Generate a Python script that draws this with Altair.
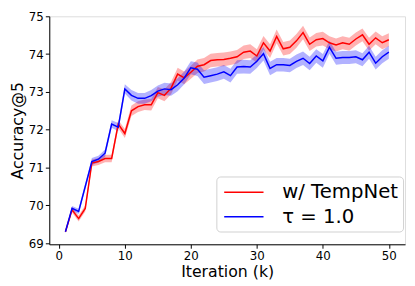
import altair as alt
import pandas as pd

iterations = list(range(1, 51))

tempnet_mean = [69.30, 69.88, 69.65, 69.92, 71.12, 71.16, 71.24, 71.24, 72.15, 71.90,
                72.50, 72.61, 72.66, 72.66, 72.98, 72.91, 73.10, 73.47, 73.37, 73.52,
                73.68, 73.72, 73.83, 73.85, 73.86, 73.89, 73.93, 74.05, 74.08, 73.95,
                74.30, 74.08, 74.47, 74.14, 74.18, 74.35, 74.57, 74.26, 74.38, 74.41,
                74.30, 74.24, 74.30, 74.26, 74.40, 74.51, 74.26, 74.43, 74.30, 74.38]
tempnet_sd = [0.03, 0.07, 0.08, 0.08, 0.09, 0.09, 0.10, 0.10, 0.11, 0.12,
              0.14, 0.14, 0.14, 0.15, 0.15, 0.16, 0.16, 0.17, 0.17, 0.17,
              0.18, 0.18, 0.18, 0.18, 0.18, 0.18, 0.18, 0.18, 0.18, 0.18,
              0.18, 0.18, 0.18, 0.18, 0.18, 0.18, 0.18, 0.18, 0.18, 0.18,
              0.17, 0.17, 0.17, 0.17, 0.17, 0.17, 0.17, 0.17, 0.17, 0.17]

tau_mean = [69.30, 69.92, 69.84, 70.50, 71.16, 71.22, 71.38, 72.15, 72.07, 73.08,
            72.91, 72.83, 72.83, 72.90, 73.02, 73.08, 73.06, 73.19, 73.37, 73.64,
            73.60, 73.39, 73.43, 73.47, 73.53, 73.43, 73.66, 73.67, 73.66, 73.81,
            74.01, 73.62, 73.72, 73.72, 73.70, 73.81, 73.89, 73.75, 73.95, 73.82,
            74.18, 73.89, 73.91, 73.91, 73.93, 73.85, 74.05, 73.76, 73.93, 74.05]
tau_sd = [0.03, 0.06, 0.07, 0.08, 0.09, 0.09, 0.10, 0.10, 0.11, 0.12,
          0.14, 0.14, 0.14, 0.15, 0.15, 0.16, 0.16, 0.17, 0.17, 0.17,
          0.18, 0.18, 0.18, 0.18, 0.18, 0.18, 0.18, 0.18, 0.18, 0.18,
          0.18, 0.18, 0.18, 0.18, 0.18, 0.18, 0.18, 0.18, 0.18, 0.18,
          0.17, 0.17, 0.17, 0.17, 0.17, 0.17, 0.17, 0.17, 0.17, 0.17]

series_names = ["w/ TempNet", "τ = 1.0"]
series_colors = ["#ff0000", "#0000ff"]
x_ticks = [0, 10, 20, 30, 40, 50]
y_ticks = [69, 70, 71, 72, 73, 74, 75]

rows = []
for name, means, sds in [(series_names[0], tempnet_mean, tempnet_sd),
                         (series_names[1], tau_mean, tau_sd)]:
    for k, m, s in zip(iterations, means, sds):
        rows.append({"k": k, "mean": m, "lo": m - s, "hi": m + s, "series": name})
df = pd.DataFrame(rows)

font = "DejaVu Sans"

xs = alt.Scale(domain=[-1.45, 52.45], nice=False, zero=False)
ys = alt.Scale(domain=[68.97, 75.0], nice=False, zero=False)
cs = alt.Scale(domain=series_names, range=series_colors)

x_axis = alt.Axis(values=x_ticks, title="Iteration (k)", grid=False, labelFontSize=12,
                  titleFontSize=16, titleFontWeight="normal", labelColor="black",
                  titleColor="black", tickColor="black", domainColor="black",
                  tickSize=4, labelPadding=2, titlePadding=3, labelFont=font, titleFont=font,
                  labelOverlap=False)
y_axis = alt.Axis(values=y_ticks, title="Accuracy@5", grid=False, labelFontSize=12,
                  titleFontSize=16, titleFontWeight="normal", labelColor="black",
                  titleColor="black", tickColor="black", domainColor="black",
                  tickSize=4, labelPadding=2, titlePadding=3, labelFont=font, titleFont=font,
                  labelOverlap=False)

base = alt.Chart(df)

band = base.mark_area(opacity=0.3).encode(
    x=alt.X("k:Q", scale=xs, axis=x_axis),
    y=alt.Y("lo:Q", scale=ys, axis=y_axis),
    y2="hi:Q",
    color=alt.Color("series:N", scale=cs, legend=None),
    detail="series:N",
)

line = base.mark_line(strokeWidth=1.5).encode(
    x=alt.X("k:Q", scale=xs, axis=x_axis),
    y=alt.Y("mean:Q", scale=ys, axis=y_axis),
    color=alt.Color("series:N", scale=cs, sort=series_names,
                    legend=alt.Legend(title=None, orient="none", legendX=170, legendY=163,
                                      symbolType="M-2,0L2,0", symbolSize=400,
                                      symbolStrokeWidth=1.5, labelFontSize=20,
                                      labelFont=font, labelColor="black",
                                      fillColor="white", strokeColor="#d0d0d0",
                                      cornerRadius=4, padding=5, rowPadding=4,
                                      symbolOffset=12, labelOffset=28)),
)

chart = alt.layer(band, line).resolve_legend(color="independent").properties(
    width=362, height=232,
    padding={"left": 42, "top": 6, "right": 2, "bottom": 40},
    autosize=alt.AutoSizeParams(type="none"),
).configure_view(stroke="black", strokeWidth=1).configure(font=font)

chart.save("out.html", embed_options={"renderer": "svg", "actions": False})
